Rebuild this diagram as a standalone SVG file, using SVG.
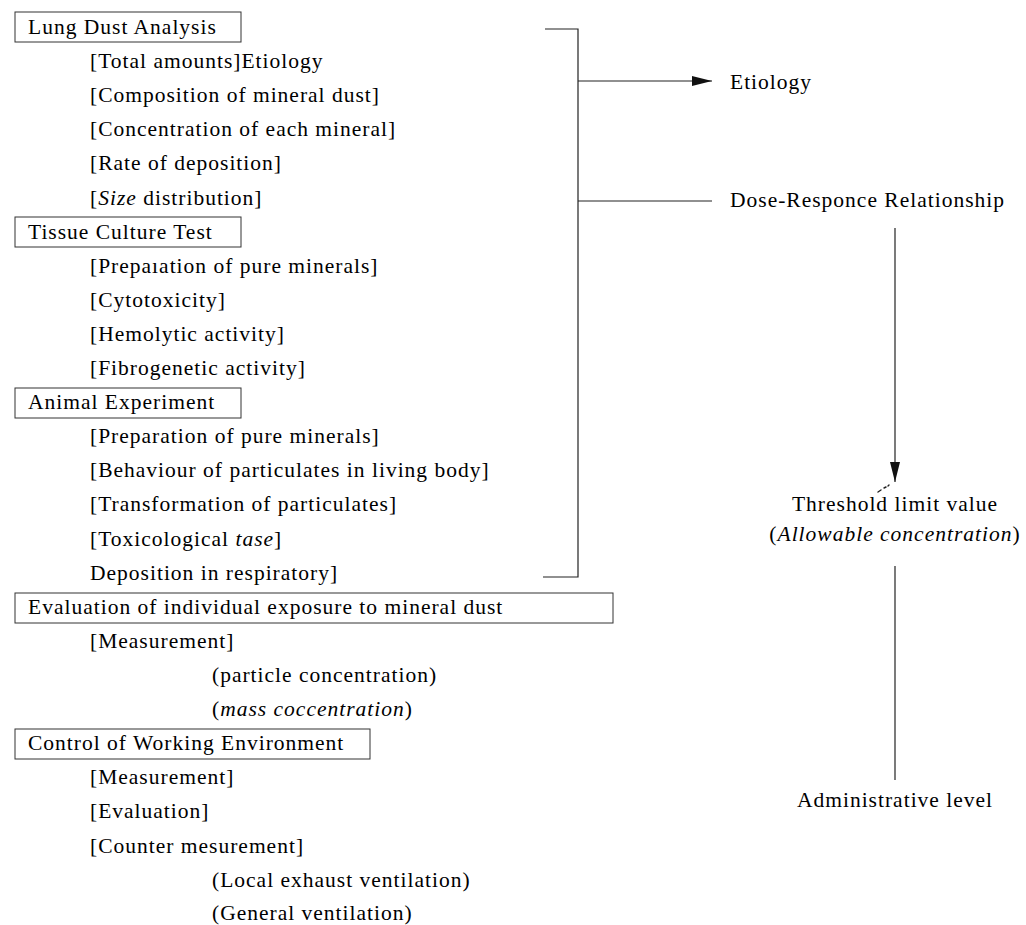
<svg xmlns="http://www.w3.org/2000/svg" width="1026" height="925" viewBox="0 0 1026 925">
<style>
text{font-family:"Liberation Serif","Times New Roman",serif;font-size:21.5px;fill:#000;letter-spacing:1px}
.box{fill:none;stroke:#333;stroke-width:1}
.ln{fill:none;stroke:#222;stroke-width:1.2}
.it{font-style:italic}
.c{text-anchor:middle}
</style>
<defs>
<marker id="ah" viewBox="0 0 20 10" refX="20" refY="5" markerWidth="20" markerHeight="10" markerUnits="userSpaceOnUse" orient="auto">
<path d="M0,0 L20,5 L0,10 Z" fill="#111"/>
</marker>
</defs>
<rect width="1026" height="925" fill="#fff"/>
<g id="lung">
<rect class="box" x="15" y="12" width="226" height="30"/>
<text x="28" y="34">Lung Dust Analysis</text>
<text x="90" y="68">[Total amounts]Etiology</text>
<text x="90" y="102">[Composition of mineral dust]</text>
<text x="90" y="136">[Concentration of each mineral]</text>
<text x="90" y="170">[Rate of deposition]</text>
<text x="90" y="205">[<tspan class="it">Size</tspan> distribution]</text>
</g>
<g id="tissue">
<rect class="box" x="15" y="217" width="226" height="30"/>
<text x="28" y="239">Tissue Culture Test</text>
<text x="90" y="273">[Prepa&#x131;ation of pure minerals]</text>
<text x="90" y="307">[Cytotoxicity]</text>
<text x="90" y="341">[Hemolytic activity]</text>
<text x="90" y="375">[Fibrogenetic activity]</text>
</g>
<g id="animal">
<rect class="box" x="15" y="388" width="226" height="30"/>
<text x="28" y="409">Animal Experiment</text>
<text x="90" y="443">[Preparation of pure minerals]</text>
<text x="90" y="477">[Behaviour of particulates in living body]</text>
<text x="90" y="511">[Transformation of particulates]</text>
<text x="90" y="546">[Toxicological <tspan class="it">tase</tspan>]</text>
<text x="90" y="580">Deposition in respiratory]</text>
</g>
<g id="evaluation">
<rect class="box" x="15" y="593" width="598" height="30"/>
<text x="28" y="614">Evaluation of individual exposure to mineral dust</text>
<text x="90" y="648">[Measurement]</text>
<text x="212" y="682">(particle concentration)</text>
<text x="212" y="716">(<tspan class="it">mass coccentration</tspan>)</text>
</g>
<g id="control">
<rect class="box" x="15" y="729" width="355" height="30"/>
<text x="28" y="750">Control of Working Environment</text>
<text x="90" y="784">[Measurement]</text>
<text x="90" y="818">[Evaluation]</text>
<text x="90" y="853">[Counter mesurement]</text>
<text x="212" y="887">(Local exhaust ventilation)</text>
<text x="212" y="920">(General ventilation)</text>
</g>
<g id="etiology"><text x="730" y="89">Etiology</text></g>
<g id="dose"><text x="730" y="207">Dose-Responce Relationship</text></g>
<g id="threshold">
<text class="c" x="895" y="511">Threshold limit value</text>
<text class="c" x="895" y="541">(<tspan class="it">Allowable concentration</tspan>)</text>
</g>
<g id="admin"><text class="c" x="895" y="807">Administrative level</text></g>
<g id="connectors">
<polyline class="ln" points="545,29 578,29 578,577 543,577"/>
<line class="ln" x1="578" y1="81" x2="712" y2="81" marker-end="url(#ah)"/>
<line class="ln" x1="578" y1="201" x2="712" y2="201"/>
<line class="ln" x1="895" y1="228" x2="895" y2="482" marker-end="url(#ah)"/>
<path d="M878,492 L881,490 M884,488 L886,487 M888,486 L889,485" stroke="#222" stroke-width="1.4" stroke-linecap="round"/>
<line class="ln" x1="895" y1="566" x2="895" y2="780"/>
</g>
</svg>
